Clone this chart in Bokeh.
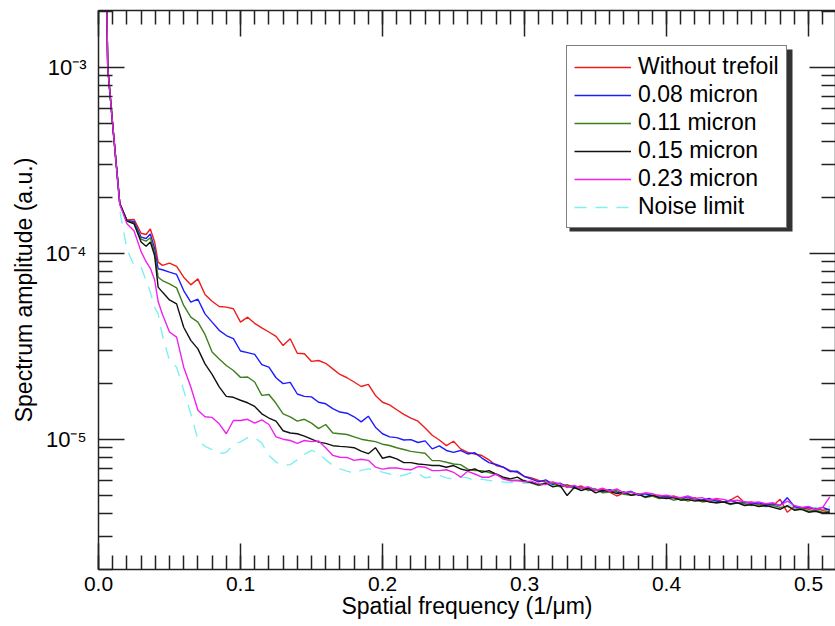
from bokeh.plotting import figure
from bokeh.models import (FixedTicker, LinearAxis, LogAxis, Legend, LegendItem,
                          BoxAnnotation, CustomJSTickFormatter, PrintfTickFormatter, Range1d)
from bokeh.embed import file_html
from bokeh.resources import INLINE

# ---------------- data (amplitudes in units of 1e-6 a.u.) ----------------
UNIT = 1e-6

freq = [0.0, 0.005, 0.0065, 0.01, 0.015, 0.02, 0.025, 0.03, 0.0335, 0.0365, 0.0395, 0.042, 0.045,
        0.05, 0.055, 0.06, 0.065, 0.07, 0.075, 0.08, 0.085, 0.09, 0.095,
        0.1, 0.105, 0.11, 0.115, 0.12, 0.125, 0.13, 0.135, 0.14, 0.145,
        0.15, 0.155, 0.16, 0.165, 0.17, 0.175, 0.18, 0.185, 0.19, 0.195,
        0.2, 0.205, 0.21, 0.215, 0.22, 0.225, 0.23, 0.235, 0.24, 0.245,
        0.25, 0.255, 0.26, 0.265, 0.27, 0.275, 0.28, 0.285, 0.29, 0.295,
        0.3, 0.305, 0.31, 0.315, 0.32, 0.325, 0.33, 0.335, 0.34, 0.345,
        0.35, 0.355, 0.36, 0.365, 0.37, 0.375, 0.38, 0.385, 0.39, 0.395,
        0.4, 0.405, 0.41, 0.415, 0.42, 0.425, 0.43, 0.435, 0.44, 0.445,
        0.45, 0.455, 0.46, 0.465, 0.47, 0.475, 0.48, 0.485, 0.49, 0.495,
        0.5, 0.505, 0.51, 0.515]

without_trefoil = [30000, 6000, 1000, 490, 185, 151, 152, 128, 126, 135, 115, 89.6, 86,
                   88.5, 85, 74.3, 67.6, 72.8, 60, 55.2, 51.7, 51.3, 50.3,
                   42.6, 45.3, 42, 39.7, 37.7, 35.7, 31.9, 34.7, 29, 28.8,
                   26.2, 26.5, 25.6, 23.9, 22.3, 21.4, 20.3, 19.2, 19.7, 17.2,
                   15.8, 15.3, 14.4, 13.6, 13.0, 12.5, 11.5, 10.5, 9.9, 9.24,
                   9.75, 8.87, 8.5, 8.33, 8.17, 7.74, 7.22, 7.07, 6.78, 6.64,
                   6.3, 6.2, 6.0, 5.9, 5.85, 5.6, 5.7, 5.5, 5.6, 5.35,
                   5.3, 5.4, 5.2, 4.95, 5.15, 5.2, 5.05, 5.1, 4.95, 5.0,
                   4.85, 4.95, 4.8, 4.75, 4.85, 4.65, 4.7, 4.75, 4.6, 4.7,
                   4.95, 4.55, 4.6, 4.45, 4.5, 4.4, 4.75, 4.05, 4.35, 4.3,
                   4.2, 4.25, 4.15, 4.2]

micron_008 = [30000, 6000, 1000, 490, 185, 150, 148, 122, 120, 127, 106, 82.5, 81.5,
              79.1, 76.9, 63, 54.6, 56.6, 47.2, 42.6, 38.5, 36.1, 34.7,
              29.8, 29.2, 28.6, 25.2, 24.4, 21.4, 19.9, 20.2, 17.5, 17.0,
              16.9, 15.8, 15.5, 14.6, 14.0, 13.8, 13.2, 12.4, 13.3, 11.6,
              10.7, 10.3, 10.2, 9.9, 9.95, 9.6, 9.8, 8.87, 9.2, 8.7,
              8.5, 8.7, 8.33, 8.45, 7.92, 7.48, 7.31, 7.07, 6.7, 6.72,
              6.3, 6.1, 5.9, 6.05, 5.7, 5.8, 5.55, 5.6, 5.45, 5.5,
              5.35, 5.25, 5.35, 5.2, 5.1, 5.25, 5.0, 5.1, 4.95, 4.9,
              4.95, 4.85, 4.8, 4.9, 4.75, 4.7, 4.8, 4.65, 4.6, 4.7,
              4.55, 4.6, 4.5, 4.55, 4.45, 4.5, 4.4, 4.85, 4.35, 4.25,
              4.3, 4.2, 4.3, 4.15]

micron_011 = [30000, 6000, 1000, 490, 185, 150, 145, 119, 116, 121, 101, 74.3, 71.3,
              68.4, 65.1, 52.4, 45.3, 42.6, 36.6, 29.4, 27.0, 24.9, 23.4,
              21.5, 21.6, 20.3, 17.2, 17.4, 15.6, 13.7, 13.2, 12.5, 12.8,
              12.2, 11.4, 12.0, 10.8, 10.7, 10.6, 10.3, 10.0, 9.84, 9.7,
              9.4, 9.25, 9.0, 8.8, 8.6, 8.5, 8.4, 7.67, 7.67, 7.52,
              7.36, 7.3, 6.9, 6.78, 6.78, 6.62, 6.46, 6.2, 6.0, 6.0,
              6.0, 5.8, 5.63, 5.75, 5.8, 5.55, 5.6, 5.45, 5.5, 5.3,
              5.4, 5.15, 5.2, 5.3, 5.05, 5.0, 5.1, 4.85, 4.95, 4.8,
              4.85, 4.7, 4.8, 4.65, 4.75, 4.6, 4.65, 4.55, 4.6, 4.45,
              4.55, 4.5, 4.4, 4.45, 4.35, 4.4, 4.3, 4.35, 4.2, 4.25,
              4.1, 4.15, 4.05, 4.1]

micron_015 = [30000, 6000, 1000, 490, 185, 149, 144, 115, 109, 115, 97.3, 65.7, 61.8,
              56.1, 53.4, 40, 34, 30.6, 25.4, 22.3, 19.1, 17.0, 16.8,
              16.2, 15.7, 15.0, 13.7, 13.0, 12.5, 11.1, 10.8, 10.7, 10.4,
              10.0, 9.64, 9.5, 9.23, 9.15, 9.1, 9.0, 8.63, 8.36, 9.0,
              7.9, 8.07, 7.84, 7.48, 7.48, 7.36, 7.3, 7.22, 7.22, 7.07,
              7.22, 6.92, 6.78, 6.92, 6.64, 6.78, 6.5, 6.25, 6.12, 6.25,
              5.94, 5.85, 5.7, 5.8, 5.55, 5.65, 4.98, 5.5, 5.3, 5.45,
              5.15, 5.3, 5.25, 5.1, 5.2, 5.0, 5.05, 4.9, 5.0, 4.85,
              4.8, 4.85, 4.7, 4.75, 4.65, 4.7, 4.6, 4.55, 4.6, 4.5,
              4.55, 4.4, 4.45, 4.35, 4.4, 4.3, 4.2, 4.4, 4.15, 4.2,
              4.05, 4.1, 4.0, 4.05]

micron_023 = [30000, 6000, 1000, 490, 183, 144, 132, 102, 90, 83, 72, 55, 47,
              37.7, 35.4, 24.4, 19.1, 14.3, 13.2, 13.1, 12.1, 10.7, 12.6,
              12.6, 12.8, 12.2, 12.7, 12.0, 10.3, 10.0, 9.84, 9.5, 9.84,
              9.7, 9.78, 9.0, 8.18, 8.0, 7.98, 7.7, 7.8, 7.7, 7.08,
              6.9, 7.0, 7.0, 6.9, 6.85, 7.13, 7.07, 6.78, 6.78, 6.85,
              6.64, 6.25, 6.72, 6.5, 6.25, 6.25, 6.5, 6.1, 6.0, 6.0,
              5.9, 5.94, 5.75, 5.7, 5.9, 5.75, 5.5, 5.65, 5.45, 5.55,
              5.3, 5.45, 5.25, 5.4, 5.15, 5.2, 5.05, 5.15, 5.1, 4.95,
              5.0, 4.9, 4.85, 4.95, 4.8, 4.85, 4.7, 4.8, 4.75, 4.65,
              4.7, 4.6, 4.55, 4.6, 4.5, 4.55, 4.4, 4.65, 4.4, 4.3,
              4.35, 4.2, 4.3, 4.9]

noise_limit = [30000, 5500, 950, 470, 170, 105, 86, 84, 71.3, 61.8, 51.3, 47.2, 36.1,
               26.5, 24.4, 18.3, 13.7, 10.0, 9.14, 8.8, 8.36, 8.5, 9.37,
               9.68, 10.2, 10.2, 9.53, 8.18, 7.53, 7.23, 7.3, 7.74, 8.28,
               8.7, 8.45, 7.74, 7.23, 6.93, 6.73, 6.57, 6.8, 6.93, 6.85,
               6.65, 6.5, 6.3, 6.4, 6.6, 6.55, 6.2, 6.3, 6.4, 6.2,
               6.1, 6.25, 6.2, 6.0, 6.1, 6.0, 5.95, 5.9, 5.85, 5.9,
               5.8, 5.85, 5.7, 5.85, 5.65, 5.75, 5.6, 5.5, 5.55, 5.4,
               5.45, 5.3, 5.35, 5.2, 5.25, 5.1, 5.15, 5.0, 5.05, 4.9,
               4.95, 4.85, 4.9, 4.8, 4.75, 4.8, 4.65, 4.7, 4.6, 4.65,
               4.55, 4.6, 4.5, 4.45, 4.5, 4.4, 4.45, 4.5, 4.3, 4.35,
               4.25, 4.3, 4.2, 4.35]

series_names = ["Without trefoil", "0.08 micron", "0.11 micron", "0.15 micron", "0.23 micron", "Noise limit"]

x_major = [0.0, 0.1, 0.2, 0.3, 0.4, 0.5]
x_minor = [i / 100 for i in range(0, 52)]
y_major = [1e-5, 1e-4, 1e-3]
y_major_labels = ["10⁻⁵", "10⁻⁴", "10⁻³"]
y_minor = [m * d for d in (1e-6, 1e-5, 1e-4, 1e-3) for m in range(2, 10)]

x_lo, x_hi = 0.0, 0.519
y_lo, y_hi = 1.993e-6, 2.018e-3

# ---------------- figure ----------------
FONT = "Liberation Sans"
AX = "#222222"

p = figure(width=835, height=626, x_range=Range1d(x_lo, x_hi), y_range=Range1d(y_lo, y_hi),
           y_axis_type="log", output_backend="svg", toolbar_location=None,
           min_border_left=98, min_border_right=0, min_border_top=10, min_border_bottom=57)
p.grid.visible = False
p.outline_line_color = None
p.background_fill_color = "white"
p.border_fill_color = "white"


def style_axis(ax):
    ax.axis_line_color = AX
    ax.axis_line_width = 1.5
    ax.major_tick_line_color = AX
    ax.minor_tick_line_color = AX
    ax.major_tick_line_width = 1.5
    ax.minor_tick_line_width = 1.5
    ax.major_tick_in = 26
    ax.major_tick_out = 0
    ax.minor_tick_in = 14
    ax.minor_tick_out = 0


xa = p.xaxis[0]
xa.ticker = FixedTicker(ticks=x_major, minor_ticks=x_minor)
xa.formatter = PrintfTickFormatter(format="%.1f")
xa.major_label_text_font = FONT
xa.major_label_text_font_size = "21px"
xa.major_label_text_color = "black"
xa.major_label_standoff = 7
xa.axis_label = "Spatial frequency (1/μm)"
xa.axis_label_text_font = FONT
xa.axis_label_text_font_size = "23px"
xa.axis_label_text_font_style = "normal"
xa.axis_label_text_color = "black"
xa.axis_label_standoff = -1
style_axis(xa)

ya = p.yaxis[0]
ya.ticker = FixedTicker(ticks=y_major, minor_ticks=y_minor)
ya.major_label_overrides = dict(zip(y_major, y_major_labels))
ya.major_label_text_font = FONT
ya.major_label_text_font_size = "22px"
ya.major_label_text_color = "black"
ya.major_label_standoff = 12
ya.axis_label = "Spectrum amplitude (a.u.)"
ya.axis_label_text_font = FONT
ya.axis_label_text_font_size = "23px"
ya.axis_label_text_font_style = "normal"
ya.axis_label_text_color = "black"
ya.axis_label_standoff = 6
style_axis(ya)

top = LinearAxis(ticker=FixedTicker(ticks=x_major, minor_ticks=x_minor),
                 formatter=CustomJSTickFormatter(code="return ''"),
                 major_label_text_font_size="0px", major_label_standoff=0)
style_axis(top)
p.add_layout(top, "above")

right = LogAxis(ticker=FixedTicker(ticks=y_major, minor_ticks=y_minor),
                formatter=CustomJSTickFormatter(code="return ''"),
                major_label_text_font_size="0px", major_label_standoff=0)
style_axis(right)
p.add_layout(right, "right")

# ---------------- lines ----------------
colors = ["#ee1c1c", "#1c1cff", "#3f7f1f", "#111111", "#ee22ee", "#7ff0f0"]
values = [without_trefoil, micron_008, micron_011, micron_015, micron_023, noise_limit]
renderers = {}
for i in [5, 0, 1, 2, 3, 4]:
    ys = [v * UNIT for v in values[i]]
    dash = "12 9" if i == 5 else "solid"
    renderers[i] = p.line(freq, ys, line_color=colors[i], line_width=1.4, line_dash=dash)

# ---------------- legend with shadow ----------------
shadow = BoxAnnotation(left=471, right=694, bottom=338, top=520,
                       left_units="screen", right_units="screen",
                       top_units="screen", bottom_units="screen",
                       fill_color="#333333", fill_alpha=1.0, line_color=None)
p.add_layout(shadow)

legend = Legend(items=[LegendItem(label=series_names[i], renderers=[renderers[i]]) for i in range(6)],
                location=(468, 341), label_text_font=FONT, label_text_font_size="23px",
                label_text_color="black", label_height=26, glyph_height=26, glyph_width=57,
                label_standoff=7, spacing=1, padding=7, margin=0,
                border_line_color="black", border_line_width=1.5,
                background_fill_color="white", background_fill_alpha=1.0)
p.add_layout(legend)

open("out.html", "w").write(file_html(p, INLINE))
